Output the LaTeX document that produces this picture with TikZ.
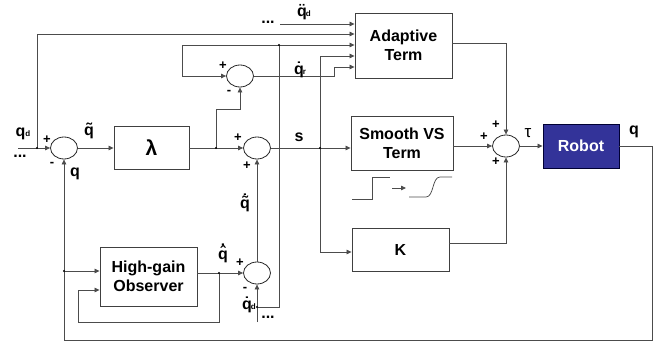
\documentclass[tikz,border=0pt]{standalone}
\usepackage{fontspec}
\setmainfont{Liberation Sans}
\usetikzlibrary{arrows.meta,shapes.geometric}
\newcommand\stk[1]{\vbox{\offinterlineskip\halign{\hfil##\hfil\cr#1\crcr}}}
\newcommand\sbd{{\fontsize{8}{8}\selectfont d}}
\newcommand\sbr{{\fontsize{8}{8}\selectfont r}}
\definecolor{robotblue}{RGB}{51,51,153}
\begin{document}
\begin{tikzpicture}[x=1pt,y=-1pt,
  box/.style={draw=black!75, line width=0.9pt, fill=white, font=\fontsize{16}{19}\selectfont\bfseries, align=center, inner sep=0pt},
  sumj/.style={draw=black!85, ellipse, minimum width=27pt, minimum height=22pt, inner sep=0pt, line width=0.8pt},
  conn/.style={draw=black!70, line width=0.75pt},
  arr/.style={conn, -{Triangle[length=5pt,width=4.5pt]}},
  dot/.style={circle, fill=black, inner sep=0pt, minimum size=2.2pt},
  lbl/.style={font=\fontsize{16}{16}\selectfont\bfseries, inner sep=0pt},
  sgn/.style={font=\fontsize{13}{13}\selectfont\bfseries, inner sep=0pt}]
\useasboundingbox (0,0) rectangle (664,348);
% blocks
\node[box, minimum width=97pt, minimum height=65pt] (adapt) at (403.5,45.5) {Adaptive\\Term};
\node[box, minimum width=102pt, minimum height=54pt] (smooth) at (402,143) {Smooth VS\\Term};
\node[box, minimum width=97pt, minimum height=43pt] (K) at (400.5,249.5) {K};
\node[box, minimum width=76pt, minimum height=44pt, fill=robotblue, draw=black!80!blue, text=white] (robot) at (581,146) {Robot};
\node[box, minimum width=75pt, minimum height=43pt, font=\fontsize{21}{21}\selectfont\bfseries] (lam) at (151.5,148) {λ};
\node[box, minimum width=97pt, minimum height=59pt] (obs) at (148.5,276.5) {High-gain\\Observer};
% summing junctions
\node[sumj] (s1) at (64,148) {};
\node[sumj] (s2) at (240,76) {};
\node[sumj] (s3) at (257,148) {};
\node[sumj] (s4) at (257,273) {};
\node[sumj] (s5) at (506,146) {};
% junction points
\coordinate (qdin) at (18,148);
\coordinate (j1) at (37,148);
\coordinate (j2) at (216,148);
\coordinate (j3) at (257,307);
\coordinate (j4) at (279,45);
\coordinate (j5) at (320,148);
\coordinate (j6) at (64,271);
\coordinate (j7) at (219,273);
\coordinate (qddin) at (257,322);
\coordinate (qdddin) at (280,24);
% connectors
\draw[arr] (qdin) -- (s1.west);
\draw[arr] (j1) -- (37,34) -- (adapt.west |- 0,34);
\draw[arr] (qdddin) -- (adapt.west |- qdddin);
\draw[arr] (s1.east) -- (lam.west);
\draw[arr] (lam.east) -- (s3.west);
\draw[arr] (j2) -- (216,109) -- (s2.south |- 0,109) -- (s2.south);
\draw[arr] (s2.east) -- (334,76) -- (334,67) -- (adapt.west |- 0,67);
\draw[arr] (j3) -- (279,307) -- (j4) -- (adapt.west |- j4);
\draw[arr] (j4) -- (182,45) -- (182,76) -- (s2.west);
\draw[arr] (qddin) -- (s4.south);
\draw[arr] (s3.east) -- (smooth.west |- s3);
\draw[arr] (j5) -- (320,56) -- (adapt.west |- 0,56);
\draw[arr] (j5) -- (320,252) -- (K.west |- 0,252);
\draw[arr] (smooth.east |- s5) -- (s5.west);
\draw[arr] (adapt.east |- 0,43) -| (s5.north);
\draw[arr] (K.east |- 0,243) -| (s5.south);
\draw[arr] (s5.east) -- (robot.west);
\draw[arr] (robot.east) -- (652,146) -- (652,340) -- (64,340) -- (s1.south);
\draw[arr] (j6) -- (obs.west |- j6);
\draw[arr] (obs.east |- s4) -- (s4.west);
\draw[arr] (j7) -- (219,322) -- (78,322) -- (78,290) -- (obs.west |- 0,290);
\draw[arr] (s4.north) -- (s3.south);
\foreach \p in {j1,j2,j3,j4,j5,j6,j7} \node[dot] at (\p) {};
% step graphic
\draw[conn] (352,199) -- (372,199) -- (372,177) -- (390,177);
\draw[arr] (392,188) -- (406,188);
\draw[conn] (409,197) -- (426,197) .. controls (434,197) and (432,177) .. (440,177) -- (452,177);
% labels
\node[lbl] at (23,134) {q\sbd};
\node[lbl] at (20,156) {...};
\node[sgn] at (47,140) {+};
\node[sgn] at (52,164) {-};
\node[lbl] at (89,131) {\stk{˜\cr\noalign{\kern-0.45em}q}};
\node[lbl] at (75,174) {q};
\node[lbl] at (268,22) {...};
\node[lbl] at (304,12) {\stk{¨\cr\noalign{\kern-0.45em}q}\kern-1pt\sbd};
\node[sgn] at (223,66) {+};
\node[sgn] at (229,92) {-};
\node[lbl] at (300,70) {\stk{˙\cr\noalign{\kern-0.45em}q}\kern-1pt\sbr};
\node[sgn] at (238,138) {+};
\node[sgn] at (247,166) {+};
\node[lbl] at (299,137) {s};
\node[lbl] at (245,203) {\stk{˙\cr\noalign{\kern-0.58em}˜\cr\noalign{\kern-0.45em}q}};
\node[lbl] at (223,253) {\stk{˙\cr\noalign{\kern-0.58em}ˆ\cr\noalign{\kern-0.45em}q}};
\node[sgn] at (240,263) {+};
\node[sgn] at (245,289) {-};
\node[lbl] at (249,305) {\stk{˙\cr\noalign{\kern-0.45em}q}\kern-1pt\sbd};
\node[lbl] at (268,317) {...};
\node[sgn] at (484,137) {+};
\node[sgn] at (496,125) {+};
\node[sgn] at (496,162) {+};
\node[font=\fontsize{17}{17}\selectfont, inner sep=0pt] at (528,133) {τ};
\node[lbl] at (634,132) {q};
\end{tikzpicture}
\end{document}
